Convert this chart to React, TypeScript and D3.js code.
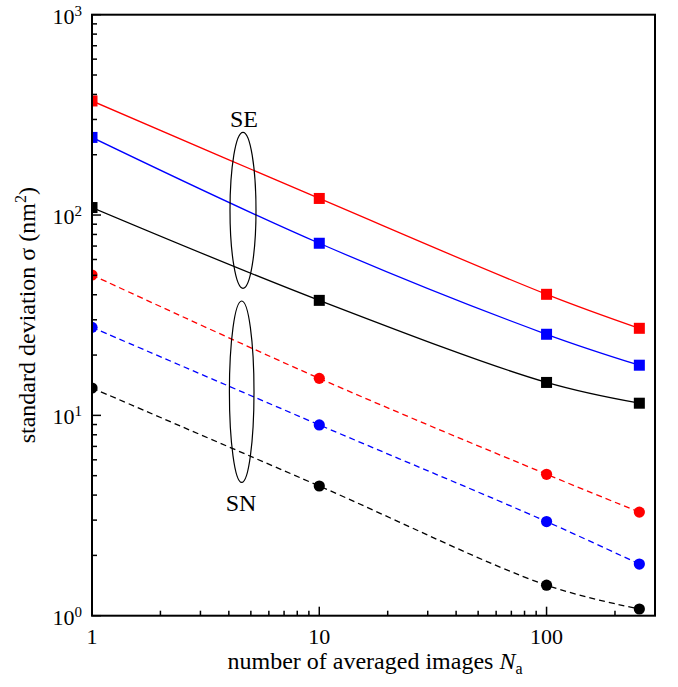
import React from "react";
import * as d3 from "d3";

const xValues = [1, 10, 100, 256];
const seRed = [371, 121, 40.2, 27.2];
const seBlue = [244, 72.3, 25.4, 17.8];
const seBlack = [109, 37.5, 14.6, 11.5];
const snRed = [50.2, 15.3, 5.08, 3.29];
const snBlue = [27.5, 8.96, 2.95, 1.81];
const snBlack = [13.7, 4.44, 1.42, 1.08];

const xMajorTicks = [1, 10, 100];
const yMajorExps = [0, 1, 2, 3];

const W = 678, H = 687;
const left = 92, right = 655, top = 14.7, bottom = 615.7;

export default function App() {
  const x = d3.scaleLog().domain([1, 300]).range([left, right]);
  const y = d3.scaleLog().domain([1, 1000]).range([bottom, top]);

  const line = d3
    .line<[number, number]>()
    .x((d) => x(d[0]))
    .y((d) => y(d[1]))
    .curve(d3.curveCatmullRom.alpha(0.5));

  const series = [
    { vals: seRed, color: "#ff0000", kind: "sq" },
    { vals: seBlue, color: "#0000ff", kind: "sq" },
    { vals: seBlack, color: "#000000", kind: "sq" },
    { vals: snRed, color: "#ff0000", kind: "ci" },
    { vals: snBlue, color: "#0000ff", kind: "ci" },
    { vals: snBlack, color: "#000000", kind: "ci" },
  ];

  const xMinor: number[] = [];
  for (const dec of [1, 10, 100]) {
    for (let k = 2; k <= 9; k++) {
      const v = dec * k;
      if (v <= 300) xMinor.push(v);
    }
  }
  const yMinor: number[] = [];
  for (const dec of [1, 10, 100]) {
    for (let k = 2; k <= 9; k++) yMinor.push(dec * k);
  }

  const font = "'Liberation Serif', 'Times New Roman', serif";
  const sq = 11;

  return (
    <svg
      width={W}
      height={H}
      style={{ position: "absolute", left: 0, top: 0, background: "#fff" }}
      fontFamily={font}
    >
      <defs>
        <clipPath id="plotclip">
          <rect x={left} y={top} width={right - left} height={bottom - top} />
        </clipPath>
      </defs>
      <rect width={W} height={H} fill="#fff" />

      <g clipPath="url(#plotclip)">
        {series.map((s, i) => (
          <path
            key={"l" + i}
            d={line(xValues.map((xv, j) => [xv, s.vals[j]] as [number, number])) || ""}
            fill="none"
            stroke={s.color}
            strokeWidth={1.3}
            strokeDasharray={s.kind === "ci" ? "6,4" : undefined}
          />
        ))}
        {series.map((s, i) =>
          xValues.map((xv, j) =>
            s.kind === "sq" ? (
              <rect
                key={"m" + i + "-" + j}
                x={x(xv) - sq / 2}
                y={y(s.vals[j]) - sq / 2}
                width={sq}
                height={sq}
                fill={s.color}
              />
            ) : (
              <circle
                key={"m" + i + "-" + j}
                cx={x(xv)}
                cy={y(s.vals[j])}
                r={5.6}
                fill={s.color}
              />
            )
          )
        )}
      </g>

      {/* ellipses */}
      <ellipse cx={243} cy={210.3} rx={13} ry={78} fill="none" stroke="#000" strokeWidth={1.2} />
      <ellipse cx={241.7} cy={391.7} rx={12.3} ry={90.7} fill="none" stroke="#000" strokeWidth={1.2} />
      <text x={244} y={127} fontSize={24} textAnchor="middle">SE</text>
      <text x={241} y={510.5} fontSize={24} textAnchor="middle">SN</text>

      {/* ticks */}
      {xMajorTicks.map((t) => (
        <line key={"xM" + t} x1={x(t)} x2={x(t)} y1={bottom} y2={bottom - 9} stroke="#000" strokeWidth={1.5} />
      ))}
      {xMinor.map((t) => (
        <line key={"xm" + t} x1={x(t)} x2={x(t)} y1={bottom} y2={bottom - 5} stroke="#000" strokeWidth={1.5} />
      ))}
      {yMajorExps.map((e) => (
        <line key={"yM" + e} x1={left} x2={left + 9} y1={y(Math.pow(10, e))} y2={y(Math.pow(10, e))} stroke="#000" strokeWidth={1.5} />
      ))}
      {yMinor.map((t) => (
        <line key={"ym" + t} x1={left} x2={left + 5} y1={y(t)} y2={y(t)} stroke="#000" strokeWidth={1.5} />
      ))}

      {/* frame */}
      <rect x={left} y={top} width={right - left} height={bottom - top} fill="none" stroke="#000" strokeWidth={2} />

      {/* tick labels */}
      {xMajorTicks.map((t) => (
        <text key={"xl" + t} x={x(t)} y={644} fontSize={22} textAnchor="middle">
          {String(t)}
        </text>
      ))}
      {yMajorExps.map((e) => (
        <text key={"yl" + e} x={82} y={y(Math.pow(10, e)) + 9} fontSize={22} textAnchor="end">
          10
          <tspan fontSize={15} dy={-8}>{String(e)}</tspan>
        </text>
      ))}

      {/* axis titles */}
      <text x={375} y={669} fontSize={24} textAnchor="middle">
        number of averaged images <tspan fontStyle="italic">N</tspan>
        <tspan fontSize={16} dy={5}>a</tspan>
      </text>
      <text
        transform={`translate(35, ${(top + bottom) / 2}) rotate(-90)`}
        fontSize={24}
        textAnchor="middle"
      >
        standard deviation σ (nm<tspan fontSize={16} dy={-9}>2</tspan>
        <tspan dy={9}>)</tspan>
      </text>
    </svg>
  );
}
